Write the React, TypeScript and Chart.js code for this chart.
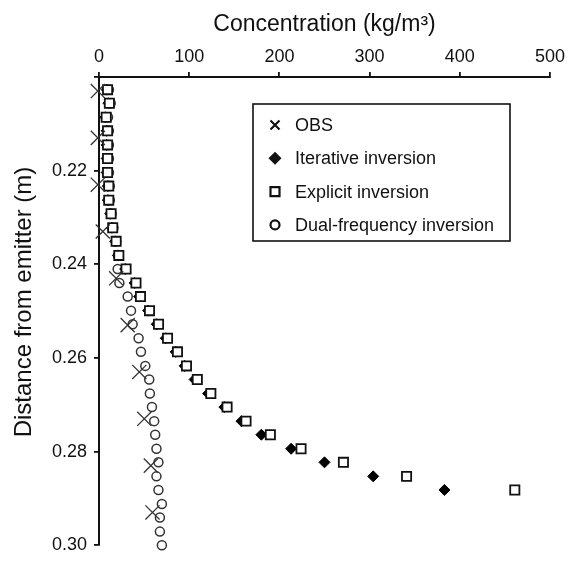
import React, { useEffect, useRef } from "react";
import { Chart, registerables } from "chart.js";

Chart.register(...registerables);

// Depth positions (m) of the profile points
const depthY = [
  0.2027, 0.2056, 0.2086, 0.2115, 0.2145, 0.2174, 0.2204, 0.2233, 0.2263, 0.2292,
  0.2322, 0.2351, 0.2381, 0.241, 0.244, 0.2469, 0.2499, 0.2528, 0.2558, 0.2587,
  0.2617, 0.2646, 0.2676, 0.2705, 0.2735, 0.2764, 0.2794, 0.2823, 0.2853, 0.2882,
  0.2912, 0.2941, 0.2971, 0.3,
];

// Explicit inversion (kg/m3), first 30 depths
const explicitConc = [
  9.5, 11.5, 8, 9.5, 9.5, 9.5, 9.5, 10.8, 10.8, 13.4,
  15.2, 19, 22, 30, 41, 46, 56, 66, 76, 87,
  97, 109, 124, 142, 163, 190, 224, 271, 341, 461,
];

// Iterative inversion (kg/m3), first 30 depths
const iterativeConc = [
  8.5, 10.5, 7, 8.5, 8.5, 8.5, 8.5, 9.8, 9.8, 12.4,
  14.2, 18, 21, 29, 39.5, 44.5, 54.5, 64, 74, 85,
  95, 106, 121, 139, 158, 180, 213, 250, 304, 383,
];

// Dual-frequency inversion (kg/m3), all 34 depths
const dualConc = [
  11, 13, 10, 11, 11, 11, 11, 12, 12, 14,
  16, 19, 21, 20.7, 22.6, 31.8, 35.5, 37.3, 43.9, 46.5,
  51.3, 55.7, 56.4, 58.7, 61.2, 62.3, 63.7, 65.9, 63.7, 65.9,
  69.7, 67.5, 67.5, 69.7,
];

// Observations
const obsDepth = [0.203, 0.213, 0.223, 0.233, 0.243, 0.253, 0.263, 0.273, 0.283, 0.293];
const obsConc = [-1.3, -1.3, -1.3, 4.2, 19, 31.8, 44.7, 50.2, 57.5, 59.3];

const xTickLabels = ["0", "100", "200", "300", "400", "500"];
const xTitle = "Concentration (kg/m³)";
const yTitle = "Distance from emitter (m)";

const legendLabels = ["OBS", "Iterative inversion", "Explicit inversion", "Dual-frequency inversion"];
const legendStyles = ["crossRot", "rectRot", "rect", "circle"];

const FONT = '"Liberation Sans", Arial, Helvetica, sans-serif';

function drawMarker(ctx: CanvasRenderingContext2D, style: string, x: number, y: number) {
  ctx.save();
  ctx.strokeStyle = "#111";
  ctx.fillStyle = "#111";
  ctx.lineWidth = 2.2;
  ctx.beginPath();
  if (style === "crossRot") {
    const r = 4.5;
    ctx.moveTo(x - r, y - r);
    ctx.lineTo(x + r, y + r);
    ctx.moveTo(x + r, y - r);
    ctx.lineTo(x - r, y + r);
    ctx.stroke();
  } else if (style === "rectRot") {
    const r = 6.5;
    ctx.moveTo(x, y - r);
    ctx.lineTo(x + r, y);
    ctx.lineTo(x, y + r);
    ctx.lineTo(x - r, y);
    ctx.closePath();
    ctx.fill();
  } else if (style === "rect") {
    const s = 4.5;
    ctx.rect(x - s, y - s, 2 * s, 2 * s);
    ctx.stroke();
  } else {
    ctx.arc(x, y, 4.5, 0, Math.PI * 2);
    ctx.stroke();
  }
  ctx.restore();
}

const boxLegend = {
  id: "boxLegend",
  afterDraw(chart: any) {
    const ctx: CanvasRenderingContext2D = chart.ctx;
    ctx.save();
    ctx.strokeStyle = "#111";
    ctx.lineWidth = 1.6;
    ctx.strokeRect(253, 104, 257, 137);
    ctx.font = `18px ${FONT}`;
    ctx.textBaseline = "middle";
    ctx.textAlign = "left";
    legendLabels.forEach((lab, i) => {
      const y = 125 + i * 33.3;
      drawMarker(ctx, legendStyles[i], 275, y);
      ctx.fillStyle = "#111";
      ctx.fillText(lab, 295, y + 1);
    });
    // y-axis title
    ctx.translate(24, 302);
    ctx.rotate(-Math.PI / 2);
    ctx.font = `24px ${FONT}`;
    ctx.textAlign = "center";
    ctx.textBaseline = "middle";
    ctx.fillStyle = "#111";
    ctx.fillText(yTitle, 0, 0);
    ctx.restore();
  },
};

export default function App() {
  const ref = useRef<HTMLCanvasElement | null>(null);

  useEffect(() => {
    if (!ref.current) return;
    Chart.defaults.font.family = FONT;
    Chart.defaults.color = "#111";

    // built bottom-up so the scatter controller does not trim the points lying left of x = 0
    const obsPoints = obsConc.map((v, i) => ({ x: v, y: obsDepth[i] })).reverse();

    const chart = new Chart(ref.current, {
      type: "scatter",
      data: {
        datasets: [
          {
            label: "OBS",
            data: obsPoints,
            pointStyle: "crossRot",
            pointRadius: 10,
            borderWidth: 1.3,
            borderColor: "#333",
            backgroundColor: "#333",
            clip: false,
            order: 0,
          },
          {
            label: "Explicit inversion",
            data: explicitConc.map((v, i) => ({ x: v, y: depthY[i] })),
            pointStyle: "rect",
            pointRadius: 6.5,
            borderWidth: 1.8,
            borderColor: "#111",
            backgroundColor: "#fff",
            clip: false,
            order: 1,
          },
          {
            label: "Iterative inversion",
            data: iterativeConc.map((v, i) => ({ x: v, y: depthY[i] })),
            pointStyle: "rectRot",
            pointRadius: 5.5,
            borderWidth: 1,
            borderColor: "#000",
            backgroundColor: "#000",
            clip: false,
            order: 2,
          },
          {
            label: "Dual-frequency inversion",
            data: dualConc.map((v, i) => ({ x: v, y: depthY[i] })),
            pointStyle: "circle",
            pointRadius: 4.5,
            borderWidth: 1.5,
            borderColor: "#333",
            backgroundColor: "#fff",
            clip: false,
            order: 3,
          },
        ],
      },
      options: {
        responsive: false,
        animation: false,
        devicePixelRatio: 1,
        layout: { padding: { left: 0, top: 0, right: 16, bottom: 10 } },
        plugins: {
          legend: { display: false },
          tooltip: { enabled: false },
        },
        scales: {
          x: {
            type: "linear",
            position: "top",
            min: 0,
            max: 500,
            afterFit: (s: any) => {
              s.height = 77;
            },
            ticks: {
              stepSize: 100,
              padding: 4,
              color: "#111",
              font: { size: 18 },
              maxRotation: 0,
              callback: (v: any) => xTickLabels[Math.round(Number(v) / 100)] ?? "",
            },
            grid: {
              drawOnChartArea: false,
              drawTicks: true,
              tickLength: 5,
              color: "#111",
              lineWidth: 1.8,
            },
            border: { display: true, color: "#111", width: 2 },
            title: {
              display: true,
              text: xTitle,
              color: "#111",
              font: { size: 23 },
              padding: { top: 11, bottom: 0 },
            },
          },
          y: {
            type: "linear",
            position: "left",
            reverse: true,
            min: 0.2,
            max: 0.3,
            afterFit: (s: any) => {
              s.width = 99;
            },
            ticks: {
              stepSize: 0.02,
              padding: 7,
              color: "#111",
              font: { size: 18 },
              callback: (v: any) => (Number(v) < 0.205 ? "" : Number(v).toFixed(2)),
            },
            grid: {
              drawOnChartArea: false,
              drawTicks: true,
              tickLength: 5,
              color: "#111",
              lineWidth: 1.8,
            },
            border: { display: true, color: "#111", width: 2 },
            title: { display: false },
          },
        },
      },
      plugins: [boxLegend],
    });
    return () => chart.destroy();
  }, []);

  return (
    <div style={{ position: "fixed", left: 0, top: 0, width: 569, height: 563, background: "#fff" }}>
      <canvas ref={ref} width={569} height={563} />
    </div>
  );
}
